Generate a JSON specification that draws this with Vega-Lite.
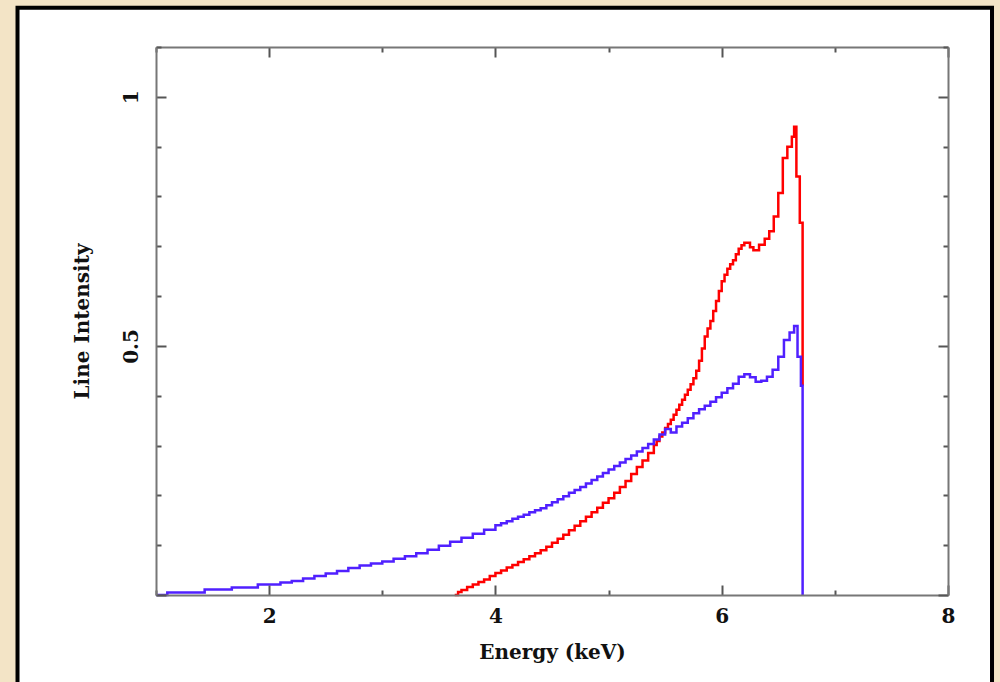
{
  "$schema": "https://vega.github.io/schema/vega-lite/v6.json",
  "width": 792,
  "height": 548,
  "autosize": "none",
  "padding": {"left": 156, "top": 47, "right": 52, "bottom": 87},
  "background": "#f3e4c6",
  "config": {"view": {"stroke": null}, "font": "DejaVu Serif"},
  "datasets": {
    "frame": [{"x1": -0.224, "x2": 8.389, "y1": 1.179, "y2": -0.25}],
    "red": [
      {"E": 3.64, "I": 0.0}, {"E": 3.67, "I": 0.006}, {"E": 3.7, "I": 0.01}, {"E": 3.75, "I": 0.016},
      {"E": 3.8, "I": 0.021}, {"E": 3.85, "I": 0.026}, {"E": 3.9, "I": 0.031}, {"E": 3.95, "I": 0.038},
      {"E": 4.0, "I": 0.044}, {"E": 4.05, "I": 0.049}, {"E": 4.1, "I": 0.055}, {"E": 4.15, "I": 0.06},
      {"E": 4.2, "I": 0.066}, {"E": 4.25, "I": 0.072}, {"E": 4.3, "I": 0.078}, {"E": 4.35, "I": 0.084},
      {"E": 4.4, "I": 0.09}, {"E": 4.45, "I": 0.097}, {"E": 4.5, "I": 0.105}, {"E": 4.55, "I": 0.113},
      {"E": 4.6, "I": 0.121}, {"E": 4.65, "I": 0.13}, {"E": 4.7, "I": 0.139}, {"E": 4.75, "I": 0.148},
      {"E": 4.8, "I": 0.157}, {"E": 4.85, "I": 0.166}, {"E": 4.9, "I": 0.175}, {"E": 4.95, "I": 0.185},
      {"E": 5.0, "I": 0.194}, {"E": 5.05, "I": 0.205}, {"E": 5.1, "I": 0.217}, {"E": 5.15, "I": 0.229},
      {"E": 5.2, "I": 0.243}, {"E": 5.25, "I": 0.257}, {"E": 5.3, "I": 0.27}, {"E": 5.35, "I": 0.285},
      {"E": 5.4, "I": 0.301}, {"E": 5.425, "I": 0.309}, {"E": 5.45, "I": 0.318}, {"E": 5.475, "I": 0.326},
      {"E": 5.5, "I": 0.335}, {"E": 5.525, "I": 0.343}, {"E": 5.55, "I": 0.352}, {"E": 5.575, "I": 0.362},
      {"E": 5.6, "I": 0.372}, {"E": 5.625, "I": 0.382}, {"E": 5.65, "I": 0.392}, {"E": 5.675, "I": 0.402},
      {"E": 5.7, "I": 0.412}, {"E": 5.725, "I": 0.423}, {"E": 5.75, "I": 0.435}, {"E": 5.775, "I": 0.45},
      {"E": 5.8, "I": 0.47}, {"E": 5.825, "I": 0.495}, {"E": 5.85, "I": 0.519}, {"E": 5.875, "I": 0.535},
      {"E": 5.9, "I": 0.55}, {"E": 5.925, "I": 0.57}, {"E": 5.95, "I": 0.59}, {"E": 5.975, "I": 0.61},
      {"E": 6.0, "I": 0.63}, {"E": 6.025, "I": 0.643}, {"E": 6.05, "I": 0.655}, {"E": 6.075, "I": 0.664},
      {"E": 6.1, "I": 0.672}, {"E": 6.125, "I": 0.684}, {"E": 6.15, "I": 0.695}, {"E": 6.175, "I": 0.702},
      {"E": 6.2, "I": 0.707}, {"E": 6.25, "I": 0.698}, {"E": 6.28, "I": 0.692}, {"E": 6.33, "I": 0.703},
      {"E": 6.38, "I": 0.715}, {"E": 6.42, "I": 0.73}, {"E": 6.46, "I": 0.76}, {"E": 6.5, "I": 0.807},
      {"E": 6.54, "I": 0.877}, {"E": 6.58, "I": 0.9}, {"E": 6.62, "I": 0.92}, {"E": 6.64, "I": 0.94},
      {"E": 6.66, "I": 0.84}, {"E": 6.69, "I": 0.747}, {"E": 6.715, "I": 0.42}
    ],
    "blue": [
      {"E": 1.0, "I": 0.0}, {"E": 1.1, "I": 0.005}, {"E": 1.43, "I": 0.011}, {"E": 1.67, "I": 0.015},
      {"E": 1.9, "I": 0.021}, {"E": 2.1, "I": 0.025}, {"E": 2.2, "I": 0.028}, {"E": 2.3, "I": 0.033},
      {"E": 2.4, "I": 0.038}, {"E": 2.5, "I": 0.043}, {"E": 2.6, "I": 0.048}, {"E": 2.7, "I": 0.054},
      {"E": 2.8, "I": 0.059}, {"E": 2.9, "I": 0.063}, {"E": 3.0, "I": 0.067}, {"E": 3.1, "I": 0.073},
      {"E": 3.2, "I": 0.078}, {"E": 3.3, "I": 0.084}, {"E": 3.4, "I": 0.091}, {"E": 3.5, "I": 0.099},
      {"E": 3.6, "I": 0.107}, {"E": 3.7, "I": 0.115}, {"E": 3.8, "I": 0.123}, {"E": 3.9, "I": 0.131},
      {"E": 4.0, "I": 0.14}, {"E": 4.05, "I": 0.144}, {"E": 4.1, "I": 0.148}, {"E": 4.15, "I": 0.153},
      {"E": 4.2, "I": 0.157}, {"E": 4.25, "I": 0.161}, {"E": 4.3, "I": 0.166}, {"E": 4.35, "I": 0.17},
      {"E": 4.4, "I": 0.174}, {"E": 4.45, "I": 0.18}, {"E": 4.5, "I": 0.186}, {"E": 4.55, "I": 0.192},
      {"E": 4.6, "I": 0.198}, {"E": 4.65, "I": 0.205}, {"E": 4.7, "I": 0.211}, {"E": 4.75, "I": 0.217},
      {"E": 4.8, "I": 0.224}, {"E": 4.85, "I": 0.231}, {"E": 4.9, "I": 0.238}, {"E": 4.95, "I": 0.245},
      {"E": 5.0, "I": 0.252}, {"E": 5.05, "I": 0.259}, {"E": 5.1, "I": 0.266}, {"E": 5.15, "I": 0.273},
      {"E": 5.2, "I": 0.28}, {"E": 5.25, "I": 0.288}, {"E": 5.3, "I": 0.295}, {"E": 5.35, "I": 0.303},
      {"E": 5.4, "I": 0.312}, {"E": 5.45, "I": 0.322}, {"E": 5.5, "I": 0.333}, {"E": 5.55, "I": 0.326},
      {"E": 5.6, "I": 0.338}, {"E": 5.65, "I": 0.346}, {"E": 5.7, "I": 0.355}, {"E": 5.75, "I": 0.365},
      {"E": 5.8, "I": 0.373}, {"E": 5.85, "I": 0.38}, {"E": 5.9, "I": 0.388}, {"E": 5.95, "I": 0.397},
      {"E": 6.0, "I": 0.406}, {"E": 6.05, "I": 0.415}, {"E": 6.1, "I": 0.424}, {"E": 6.15, "I": 0.438},
      {"E": 6.2, "I": 0.443}, {"E": 6.25, "I": 0.437}, {"E": 6.3, "I": 0.428}, {"E": 6.35, "I": 0.43},
      {"E": 6.4, "I": 0.438}, {"E": 6.45, "I": 0.452}, {"E": 6.5, "I": 0.478}, {"E": 6.55, "I": 0.512},
      {"E": 6.6, "I": 0.527}, {"E": 6.64, "I": 0.54}, {"E": 6.67, "I": 0.478}, {"E": 6.7, "I": 0.42},
      {"E": 6.715, "I": 0.0}
    ]
  },
  "layer": [
    {
      "data": {"name": "frame"},
      "mark": {"type": "rect", "fill": "#ffffff", "stroke": "#000000", "strokeWidth": 4},
      "encoding": {
        "x": {"field": "x1", "type": "quantitative", "scale": {"domain": [1, 8], "nice": false, "zero": false}, "axis": null},
        "x2": {"field": "x2"},
        "y": {"field": "y1", "type": "quantitative", "scale": {"domain": [0, 1.1], "nice": false, "zero": false}, "axis": null},
        "y2": {"field": "y2"}
      }
    },
    {
      "data": {"name": "red"},
      "mark": {"type": "line", "interpolate": "step-after", "color": "#ff0000", "strokeWidth": 2.5},
      "encoding": {
        "x": {
          "field": "E", "type": "quantitative",
          "axis": {
            "orient": "bottom", "values": [1, 2, 3, 4, 5, 6, 7, 8],
            "labelExpr": "datum.value % 2 === 0 ? datum.label : ''",
            "tickSize": {"condition": {"test": "datum.value % 2 === 0", "value": -10}, "value": -5},
            "labelPadding": 21, "labelFontSize": 20, "labelFontWeight": "bold", "labelColor": "#111", "labelFlush": false, "labelOverlap": false,
            "tickColor": "#555", "tickWidth": 2, "domainColor": "#777", "domainWidth": 2, "grid": false,
            "title": "Energy (keV)", "titleFontSize": 20, "titleFontWeight": "bold", "titleColor": "#111", "titlePadding": 11,
            "zindex": 1
          }
        },
        "y": {
          "field": "I", "type": "quantitative",
          "axis": {
            "orient": "left", "values": [0, 0.1, 0.2, 0.3, 0.4, 0.5, 0.6, 0.7, 0.8, 0.9, 1.0, 1.1],
            "labelExpr": "abs(datum.value - 1) < 0.01 ? '1' : abs(datum.value - 0.5) < 0.01 ? '0.5' : ''",
            "tickSize": {"condition": {"test": "abs(datum.value * 2 - round(datum.value * 2)) < 0.01", "value": -10}, "value": -5},
            "labelAngle": -90, "labelAlign": "center", "labelBaseline": "alphabetic",
            "labelPadding": 29, "labelFontSize": 20, "labelFontWeight": "bold", "labelColor": "#111", "labelFlush": false, "labelOverlap": false,
            "tickColor": "#555", "tickWidth": 2, "domainColor": "#777", "domainWidth": 2, "grid": false,
            "title": "Line Intensity", "titleFontSize": 20, "titleFontWeight": "bold", "titleColor": "#111", "titlePadding": 24,
            "zindex": 1
          }
        }
      }
    },
    {
      "data": {"name": "blue"},
      "mark": {"type": "line", "interpolate": "step-after", "color": "#5020ff", "strokeWidth": 2.5},
      "encoding": {
        "x": {
          "field": "E", "type": "quantitative",
          "axis": {
            "orient": "top", "values": [1, 2, 3, 4, 5, 6, 7, 8], "labels": false, "title": null,
            "tickSize": {"condition": {"test": "datum.value % 2 === 0", "value": -10}, "value": -5},
            "tickColor": "#555", "tickWidth": 2, "domainColor": "#777", "domainWidth": 2, "grid": false, "zindex": 1
          }
        },
        "y": {
          "field": "I", "type": "quantitative",
          "axis": {
            "orient": "right", "values": [0, 0.1, 0.2, 0.3, 0.4, 0.5, 0.6, 0.7, 0.8, 0.9, 1.0, 1.1], "labels": false, "title": null,
            "tickSize": {"condition": {"test": "abs(datum.value * 2 - round(datum.value * 2)) < 0.01", "value": -10}, "value": -5},
            "tickColor": "#555", "tickWidth": 2, "domainColor": "#777", "domainWidth": 2, "grid": false, "zindex": 1
          }
        }
      }
    }
  ],
  "resolve": {"axis": {"x": "independent", "y": "independent"}}
}
